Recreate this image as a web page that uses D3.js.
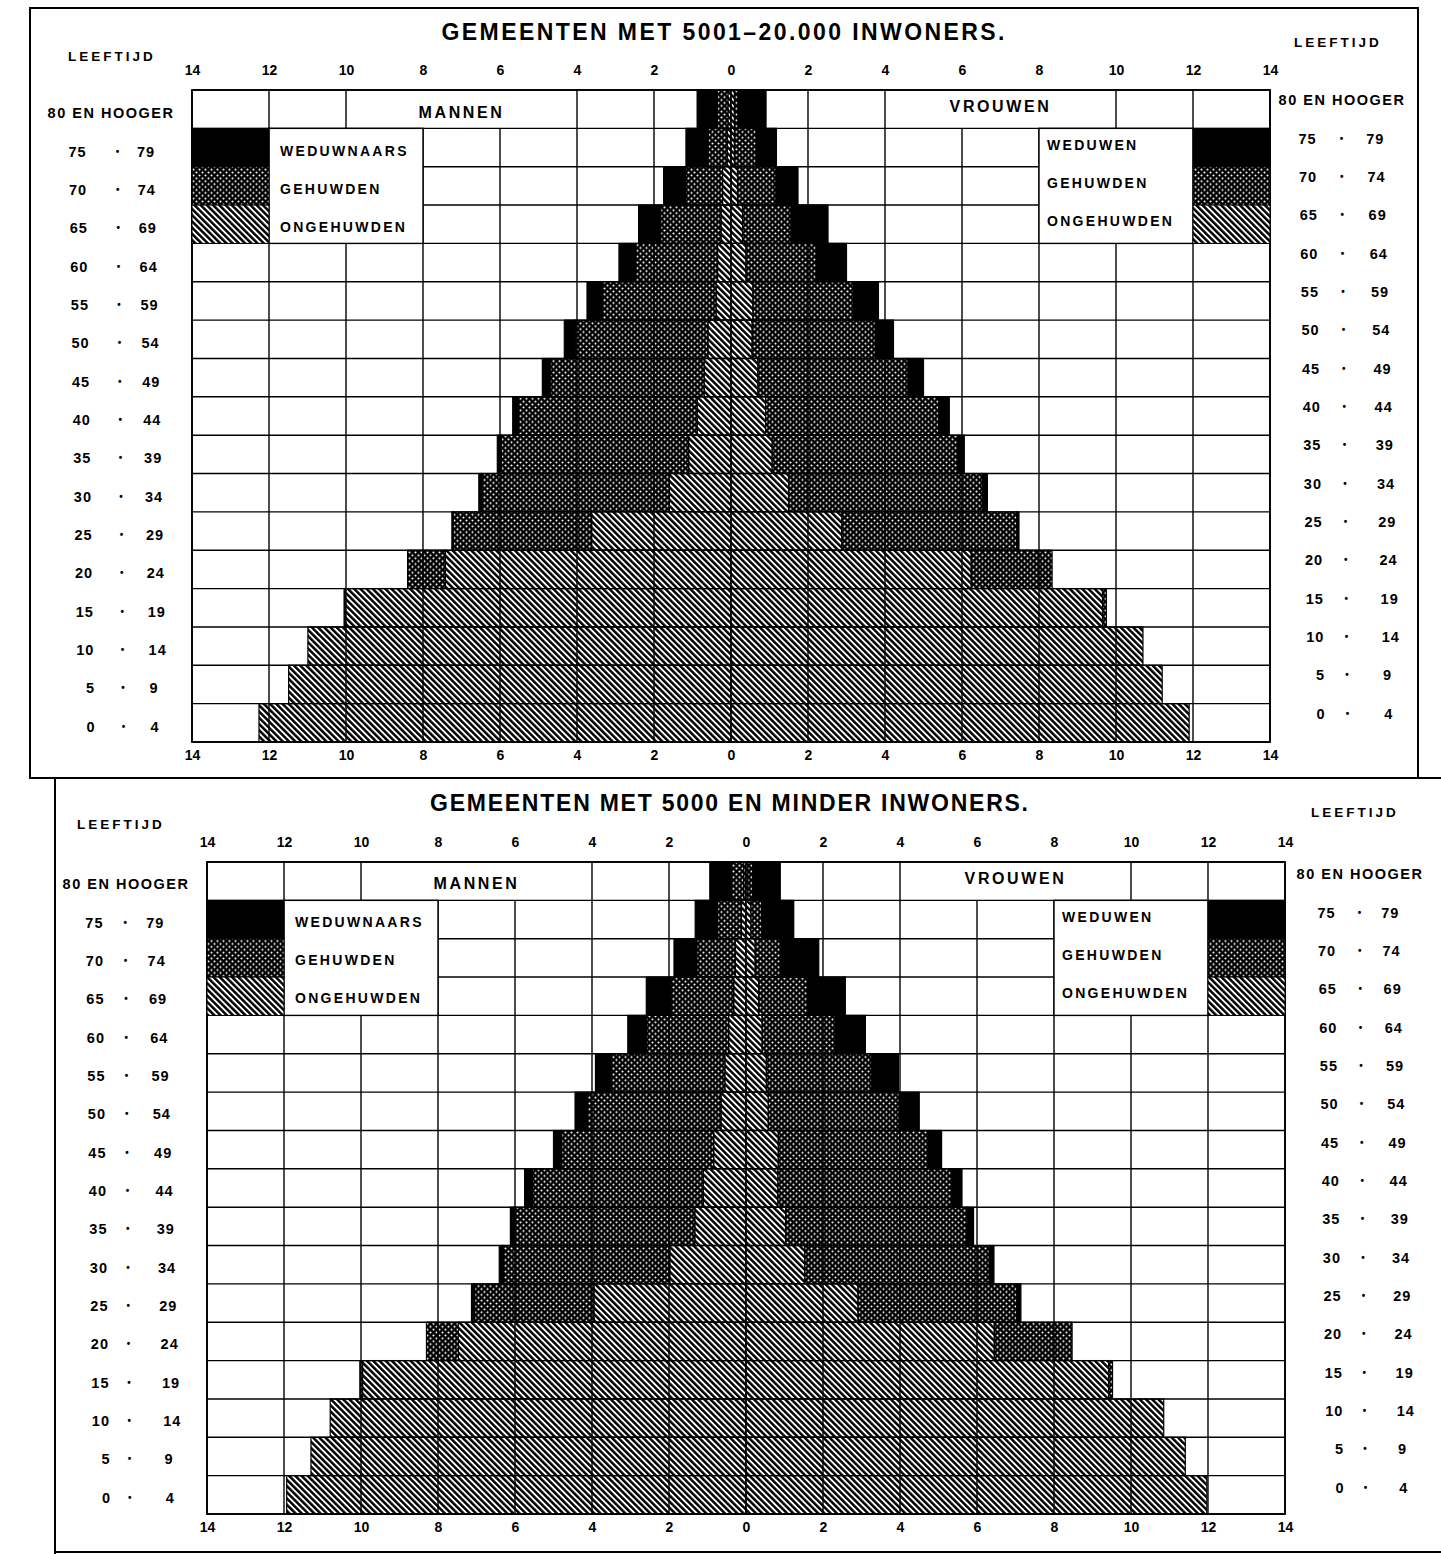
<!DOCTYPE html>
<html>
<head>
<meta charset="utf-8">
<script src="https://cdnjs.cloudflare.com/ajax/libs/d3/7.8.5/d3.min.js"></script>
<style>
  body { margin: 0; background: #fff; }
  svg text { font-family: "Liberation Sans", Arial, sans-serif; font-weight: bold; fill: #000; }
</style>
</head>
<body>
<div id="sandbox"></div>
<script>
// Leeftijdsgroepen, bovenste rij eerst
var ageGroups = ["80 EN HOOGER", "75 · 79", "70 · 74", "65 · 69", "60 · 64", "55 · 59", "50 · 54",
  "45 · 49", "40 · 44", "35 · 39", "30 · 34", "25 · 29", "20 · 24", "15 · 19", "10 · 14", "5 · 9", "0 · 4"];
var tickValues = [-14, -12, -10, -8, -6, -4, -2, 0, 2, 4, 6, 8, 10, 12, 14];
var legendMen = ["WEDUWNAARS", "GEHUWDEN", "ONGEHUWDEN"];
var legendWomen = ["WEDUWEN", "GEHUWDEN", "ONGEHUWDEN"];

// Gemeenten met 5001-20.000 inwoners
var midMenSingle    = [0.08, 0.10, 0.22, 0.26, 0.35, 0.39, 0.60, 0.70, 0.88, 1.10, 1.60, 3.62, 7.42, 10.02, 10.99, 11.49, 12.26];
var midMenMarried   = [0.28, 0.50, 0.96, 1.57, 2.13, 2.96, 3.45, 4.00, 4.64, 4.87, 4.87, 3.60, 0.98, 0.03, 0, 0, 0];
var midMenWidowed   = [0.52, 0.57, 0.57, 0.57, 0.43, 0.39, 0.28, 0.20, 0.15, 0.10, 0.08, 0.03, 0, 0, 0, 0, 0];
var midWomenSingle  = [0.09, 0.09, 0.17, 0.30, 0.39, 0.57, 0.55, 0.70, 0.90, 1.07, 1.50, 2.88, 6.24, 9.65, 10.70, 11.20, 11.90];
var midWomenMarried = [0.10, 0.57, 1.00, 1.26, 1.83, 2.61, 3.20, 3.90, 4.50, 4.82, 5.04, 4.55, 2.10, 0.10, 0, 0, 0];
var midWomenWidowed = [0.72, 0.52, 0.57, 0.96, 0.78, 0.65, 0.47, 0.40, 0.27, 0.17, 0.12, 0.05, 0, 0, 0, 0, 0];

// Gemeenten met 5000 en minder inwoners
var smallMenSingle    = [0.06, 0.12, 0.28, 0.32, 0.45, 0.55, 0.65, 0.84, 1.11, 1.33, 1.98, 3.95, 7.47, 9.96, 10.80, 11.30, 11.93];
var smallMenMarried   = [0.33, 0.62, 1.00, 1.63, 2.14, 2.96, 3.47, 3.95, 4.44, 4.69, 4.32, 3.10, 0.83, 0.07, 0, 0, 0];
var smallMenWidowed   = [0.55, 0.58, 0.59, 0.64, 0.48, 0.40, 0.32, 0.21, 0.20, 0.10, 0.11, 0.08, 0, 0, 0, 0, 0];
var smallWomenSingle  = [0.05, 0.13, 0.24, 0.33, 0.42, 0.53, 0.58, 0.84, 0.83, 1.03, 1.53, 2.91, 6.45, 9.42, 10.85, 11.41, 11.97];
var smallWomenMarried = [0.13, 0.28, 0.67, 1.27, 1.90, 2.74, 3.40, 3.89, 4.52, 4.71, 4.79, 4.13, 2.02, 0.10, 0, 0, 0];
var smallWomenWidowed = [0.71, 0.83, 0.98, 0.98, 0.78, 0.69, 0.52, 0.35, 0.26, 0.17, 0.12, 0.10, 0, 0, 0, 0, 0];

var svg = d3.select('#sandbox').append('svg')
  .attr('width', 1441)
  .attr('height', 1554);

// Patterns: ongehuwd = schuine arcering, gehuwd = zwart met witte stippen
var defs = svg.append('defs');
var hatch = defs.append('pattern').attr('id', 'hatch')
  .attr('patternUnits', 'userSpaceOnUse')
  .attr('width', 4.4).attr('height', 10)
  .attr('patternTransform', 'rotate(-45)');
hatch.append('rect').attr('width', 4.4).attr('height', 10).attr('fill', '#fff');
hatch.append('rect').attr('width', 2.5).attr('height', 10).attr('fill', '#000');

var dots = defs.append('pattern').attr('id', 'dots')
  .attr('patternUnits', 'userSpaceOnUse')
  .attr('width', 6).attr('height', 5.8);
dots.append('rect').attr('width', 6).attr('height', 5.8).attr('fill', '#000');
dots.append('circle').attr('cx', 1.5).attr('cy', 1.45).attr('r', 1.05).attr('fill', '#fff');
dots.append('circle').attr('cx', 4.5).attr('cy', 4.35).attr('r', 1.05).attr('fill', '#fff');

var fills = ['url(#hatch)', 'url(#dots)', '#000'];

// Frames around the two sheets
svg.append('rect').attr('x', 30).attr('y', 8).attr('width', 1388).attr('height', 770)
  .attr('fill', 'none').attr('stroke', '#000').attr('stroke-width', 2);
svg.append('line').attr('x1', 40).attr('x2', 1441).attr('y1', 778).attr('y2', 778)
  .attr('stroke', '#000').attr('stroke-width', 2);
svg.append('line').attr('x1', 55).attr('x2', 55).attr('y1', 778).attr('y2', 1554)
  .attr('stroke', '#000').attr('stroke-width', 2);
svg.append('line').attr('x1', 55).attr('x2', 1441).attr('y1', 1552).attr('y2', 1552)
  .attr('stroke', '#000').attr('stroke-width', 2);

var panels = [
  {
    title: 'GEMEENTEN MET 5001\u201320.000 INWONERS.', titleX: 723, titleY: 40, titleW: 563,
    men: [midMenSingle, midMenMarried, midMenWidowed],
    women: [midWomenSingle, midWomenMarried, midWomenWidowed],
    left: 192, right: 1270, top: 90, bottom: 742,
    leefL: [112, 61], leefR: [1338, 47],
    labL: {first: 86, dot: 117, second: 136, drift: [0.6, 0.4, 0.9], dy: 4, hoog: 111},
    labR: {first: 1316, dot: 1341, second: 1365, drift: [0.6, 0.4, 1.2], dy: -9, hoog: 1342},
    sideDy: [3, -3]
  },
  {
    title: 'GEMEENTEN MET 5000 EN MINDER INWONERS.', titleX: 729, titleY: 811, titleW: 598,
    men: [smallMenSingle, smallMenMarried, smallMenWidowed],
    women: [smallWomenSingle, smallWomenMarried, smallWomenWidowed],
    left: 207, right: 1285, top: 862, bottom: 1514,
    leefL: [121, 829], leefR: [1355, 817],
    labL: {first: 103, dot: 125, second: 145, drift: [0.5, 0.3, 1.3], dy: 3, hoog: 126},
    labR: {first: 1335, dot: 1359, second: 1380, drift: [0.6, 0.4, 1.2], dy: -7, hoog: 1360},
    sideDy: [2, -3]
  }
];

function segments(side, series) {
  var out = [];
  ageGroups.forEach(function(a, i) {
    var acc = 0;
    series.forEach(function(vals, j) {
      if (vals[i] > 0) {
        out.push({row: i, kind: j, v0: side * acc, v1: side * (acc + vals[i])});
        acc += vals[i];
      }
    });
  });
  return out;
}

function drawPanel(p) {
  var g = svg.append('g');
  var x = d3.scaleLinear().domain([-14, 14]).range([p.left, p.right]);
  var y = d3.scaleBand().domain(d3.range(ageGroups.length)).range([p.top, p.bottom]);
  var bw = y.bandwidth();
  var mid = function(i) { return y(i) + bw / 2; };

  // title and LEEFTIJD
  g.append('text').attr('x', p.titleX).attr('y', p.titleY).attr('text-anchor', 'middle')
    .attr('font-size', 23).attr('textLength', p.titleW).attr('lengthAdjust', 'spacing')
    .text(p.title);
  g.append('text').attr('x', p.leefL[0]).attr('y', p.leefL[1]).attr('text-anchor', 'middle')
    .attr('font-size', 13.5).attr('letter-spacing', 3).text('LEEFTIJD');
  g.append('text').attr('x', p.leefR[0]).attr('y', p.leefR[1]).attr('text-anchor', 'middle')
    .attr('font-size', 13.5).attr('letter-spacing', 3).text('LEEFTIJD');

  // grid background
  g.append('rect').attr('x', x(-14)).attr('y', p.top)
    .attr('width', x(14) - x(-14)).attr('height', p.bottom - p.top).attr('fill', '#fff');

  // bars
  var segs = segments(-1, p.men).concat(segments(1, p.women));
  g.selectAll('rect.bar').data(segs).join('rect').attr('class', 'bar')
    .attr('x', function(d) { return Math.min(x(d.v0), x(d.v1)); })
    .attr('y', function(d) { return y(d.row); })
    .attr('width', function(d) { return Math.abs(x(d.v1) - x(d.v0)); })
    .attr('height', bw)
    .attr('fill', function(d) { return fills[d.kind]; })
    .attr('stroke', '#000').attr('stroke-width', 1.2);

  // vertical grid lines, per row (the name cells in the top row have none inside)
  var vlines = [];
  ageGroups.forEach(function(a, i) {
    tickValues.forEach(function(t) {
      if (i === 0 && Math.abs(t) > 4 && Math.abs(t) < 10) return;
      vlines.push({row: i, t: t});
    });
  });
  g.selectAll('line.v').data(vlines).join('line').attr('class', 'v')
    .attr('x1', function(d) { return x(d.t); }).attr('x2', function(d) { return x(d.t); })
    .attr('y1', function(d) { return y(d.row); }).attr('y2', function(d) { return y(d.row) + bw; })
    .attr('stroke', '#000').attr('stroke-width', 1.4);

  g.selectAll('line.h').data(d3.range(ageGroups.length + 1)).join('line').attr('class', 'h')
    .attr('x1', x(-14)).attr('x2', x(14))
    .attr('y1', function(d) { return p.top + d * bw; }).attr('y2', function(d) { return p.top + d * bw; })
    .attr('stroke', '#000').attr('stroke-width', 1.4);

  g.append('rect').attr('x', x(-14)).attr('y', p.top)
    .attr('width', x(14) - x(-14)).attr('height', p.bottom - p.top)
    .attr('fill', 'none').attr('stroke', '#000').attr('stroke-width', 1.8);

  // MANNEN / VROUWEN
  g.append('text').attr('x', x(-7)).attr('y', mid(0) + 6 + p.sideDy[0]).attr('text-anchor', 'middle')
    .attr('font-size', 16).attr('letter-spacing', 2.6).text('MANNEN');
  g.append('text').attr('x', x(7)).attr('y', mid(0) + 6 + p.sideDy[1]).attr('text-anchor', 'middle')
    .attr('font-size', 16).attr('letter-spacing', 2.6).text('VROUWEN');

  // legends: boxes over rows 1-3
  var legendRows = [1, 2, 3];
  var legendFill = [fills[2], fills[1], fills[0]];
  [[-12, -8, -14, legendMen, 11, p.sideDy[0]], [8, 12, 12, legendWomen, 8, p.sideDy[1]]].forEach(function(L) {
    g.append('rect').attr('x', x(L[0])).attr('y', y(1))
      .attr('width', x(L[1]) - x(L[0])).attr('height', 3 * bw)
      .attr('fill', '#fff').attr('stroke', '#000').attr('stroke-width', 1.4);
    g.selectAll(null).data(legendRows).join('rect')
      .attr('x', x(L[2])).attr('y', function(d) { return y(d); })
      .attr('width', x(L[2] + 2) - x(L[2])).attr('height', bw)
      .attr('fill', function(d, k) { return legendFill[k]; })
      .attr('stroke', '#000').attr('stroke-width', 1);
    g.selectAll(null).data(legendRows).join('text')
      .attr('x', x(L[0]) + L[4]).attr('y', function(d) { return mid(d) + 5 + L[5]; })
      .attr('font-size', 14).attr('letter-spacing', 2.3)
      .text(function(d, k) { return L[3][k]; });
  });

  // axes
  var fmt = function(d) { return Math.abs(d); };
  var top = g.append('g').attr('transform', 'translate(0,' + (p.top - 15) + ')')
    .call(d3.axisTop(x).tickValues(tickValues).tickFormat(fmt).tickSize(0).tickPadding(0));
  var bot = g.append('g').attr('transform', 'translate(0,' + (p.bottom + 8) + ')')
    .call(d3.axisBottom(x).tickValues(tickValues).tickFormat(fmt).tickSize(0).tickPadding(0));
  [top, bot].forEach(function(a) {
    a.select('.domain').remove();
    a.selectAll('text').attr('font-size', 14)
      .style('font-family', '"Liberation Sans", Arial, sans-serif').style('font-weight', 'bold');
  });

  // age labels on both sides
  [p.labL, p.labR].forEach(function(L) {
    ageGroups.forEach(function(a, i) {
      var yy = mid(i) + 5 + L.dy;
      var parts = a.split(' · ');
      if (parts.length === 1) {
        g.append('text').attr('x', L.hoog).attr('y', yy).attr('text-anchor', 'middle')
          .attr('font-size', 14.5).attr('letter-spacing', 1.5).text(a);
        return;
      }
      g.append('text').attr('x', L.first + i * L.drift[0]).attr('y', yy).attr('text-anchor', 'end')
        .attr('font-size', 14.5).attr('letter-spacing', 1).text(parts[0]);
      g.append('text').attr('x', L.dot + i * L.drift[1]).attr('y', yy - 2).attr('text-anchor', 'middle')
        .attr('font-size', 10).text('\u2022');
      g.append('text').attr('x', L.second + i * L.drift[2]).attr('y', yy)
        .attr('font-size', 14.5).attr('letter-spacing', 1).text(parts[1]);
    });
  });
}

panels.forEach(drawPanel);
</script>
</body>
</html>
